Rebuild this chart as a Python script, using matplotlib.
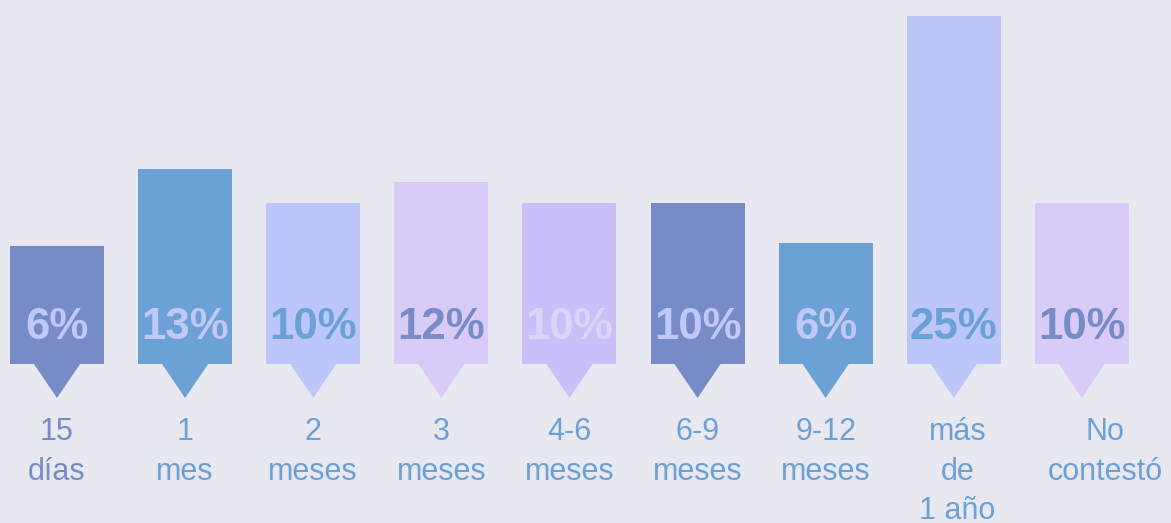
import matplotlib
matplotlib.use('Agg')
import matplotlib.pyplot as plt
from matplotlib.patches import Polygon

plt.rcParams['font.family'] = ['Liberation Sans', 'DejaVu Sans']

categories = ['15\ndías', '1\nmes', '2\nmeses', '3\nmeses', '4-6\nmeses',
              '6-9\nmeses', '9-12\nmeses', 'más\nde\n1 año', 'No\ncontestó']
values = [6.3, 12.7, 9.9, 11.6, 9.9, 9.9, 6.6, 25.3, 9.9]
labels = ['6%', '13%', '10%', '12%', '10%', '10%', '6%', '25%', '10%']

bar_colors = ['#778bc6', '#6ba1d5', '#bdc6fa', '#d9cbf8', '#cabff8',
              '#778bc6', '#6ba1d5', '#bdc6fa', '#d9cbf8']
label_colors = ['#c0c8fa', '#c0c8fa', '#6ba1d5', '#778bc6', '#ddd4fb',
                '#c0c8fa', '#c0c8fa', '#6ba1d5', '#778bc6']
cat_colors = ['#778bc6'] + ['#6ba1d5'] * 8
bg = '#e8e8f1'

fig = plt.figure(figsize=(11.71, 5.23), dpi=100)
fig.patch.set_facecolor(bg)
ax = fig.add_axes([0, 0, 1, 1])
ax.set_facecolor(bg)

base = -3.45
x = list(range(len(values)))
ax.bar(x, [v - base for v in values], bottom=base, width=0.734,
       color=bar_colors, linewidth=0)

# pointer under each bar, value inside, category below
for i in x:
    tri = Polygon([(i - 0.18, base), (i + 0.18, base), (i, -6.26)],
                  closed=True, facecolor=bar_colors[i], linewidth=0)
    ax.add_patch(tri)
    ax.text(i, -0.45, labels[i], ha='center', va='center', fontsize=31.5,
            fontweight='bold', color=label_colors[i])
    shift = 0.18 if i == len(values) - 1 else 0.03 * (i == 7)
    ax.text(i + shift, -7.83, categories[i], ha='center', va='top',
            fontsize=22, color=cat_colors[i], linespacing=1.42)

ax.set_xlim(-0.445, 8.696)
ax.set_ylim(-16.6, 26.66)
ax.axis('off')

fig.savefig('out.png', dpi=100, facecolor=bg)
